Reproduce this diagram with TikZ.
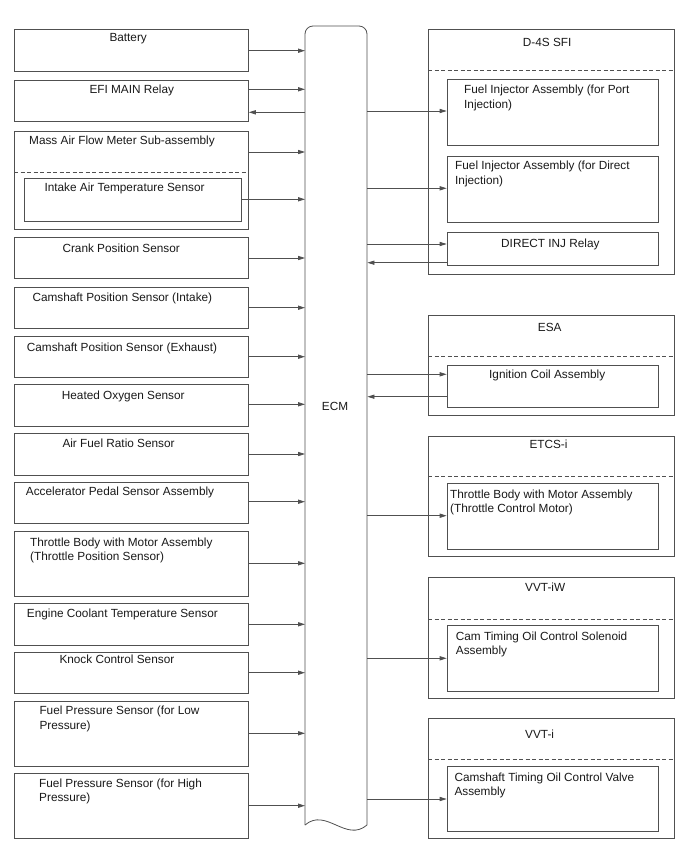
\documentclass[tikz,border=0pt]{standalone}
\usepackage{fontspec}
\setmainfont{Liberation Sans}
\usetikzlibrary{arrows.meta}
\definecolor{linec}{RGB}{80,80,80}
\definecolor{txtc}{RGB}{25,25,25}
\begin{document}
\begin{tikzpicture}[x=1pt,y=-1pt,
  box/.style={draw=linec, line width=0.8pt, rectangle, inner sep=0pt, anchor=north west},
  lbox/.style={box, minimum width=234pt},
  gbox/.style={box, minimum width=246pt},
  ibox/.style={box, minimum width=211pt},
  lbl/.style={anchor=north west, inner sep=0pt, align=left, text=txtc, font=\fontsize{11.8}{14.3}\selectfont},
  arr/.style={draw=linec, line width=0.8pt, -{Triangle[length=7pt,width=4.2pt]}},
  sep/.style={draw=linec, line width=0.8pt, dash pattern=on 4pt off 2.5pt},
  ecmline/.style={draw=linec, line width=0.8pt}]
\useasboundingbox (0,0) rectangle (688,852);

% ECM
\node[inner sep=0pt, minimum width=62pt, minimum height=799pt, anchor=north west] (ecm) at (305,26) {};
\draw[ecmline, rounded corners=8pt] (305,825) -- (305,26) -- (367,26) -- (367,825);
\draw[ecmline] (367,825) .. controls (346,843) and (326,807) .. (305,825);
\node[lbl] (ecmlbl) at (321.7,401.7) {ECM};

% left boxes
\node[lbox, minimum height=42pt] (bat) at (14,29) {};
\node[lbl] (batt) at (109.3,33.3) {Battery};
\node[lbox, minimum height=41pt] (efi) at (14,80) {};
\node[lbl] (efit) at (89.3,85) {EFI MAIN Relay};
\node[lbox, minimum height=98pt] (maf) at (14,131) {};
\node[lbl] (maft) at (29,136) {Mass Air Flow Meter Sub-assembly};
\draw[sep] (maf.west |- 0,172) -- (maf.east |- 0,172);
\node[box, minimum width=217pt, minimum height=43pt] (iat) at (24,178) {};
\node[lbl] (iatt) at (44.3,182.3) {Intake Air Temperature Sensor};
\node[lbox, minimum height=41.3pt] (crk) at (14,236.7) {};
\node[lbl] (crkt) at (62.3,243.3) {Crank Position Sensor};
\node[lbox, minimum height=41pt] (cmi) at (14,286.7) {};
\node[lbl] (cmit) at (32.3,292.7) {Camshaft Position Sensor (Intake)};
\node[lbox, minimum height=41pt] (cme) at (14,336) {};
\node[lbl] (cmet) at (26.7,342.3) {Camshaft Position Sensor (Exhaust)};
\node[lbox, minimum height=41.7pt] (ho2) at (14,384.3) {};
\node[lbl] (ho2t) at (61.7,390.7) {Heated Oxygen Sensor};
\node[lbox, minimum height=41.7pt] (afs) at (14,433.3) {};
\node[lbl] (afst) at (62.3,438.3) {Air Fuel Ratio Sensor};
\node[lbox, minimum height=41.6pt] (aps) at (14,481.7) {};
\node[lbl] (apst) at (25.7,486.7) {Accelerator Pedal Sensor Assembly};
\node[lbox, minimum height=64.7pt] (tps) at (14,531) {};
\node[lbl] (tpst) at (30,537.3) {Throttle Body with Motor Assembly\\(Throttle Position Sensor)};
\node[lbox, minimum height=41.7pt] (ect) at (14,603.3) {};
\node[lbl] (ectt) at (26.7,608.3) {Engine Coolant Temperature Sensor};
\node[lbox, minimum height=41.6pt] (kcs) at (14,651.7) {};
\node[lbl] (kcst) at (59.3,655) {Knock Control Sensor};
\node[lbox, minimum height=64.7pt] (fpl) at (14,701) {};
\node[lbl] (fplt) at (39.3,706) {Fuel Pressure Sensor (for Low\\Pressure)};
\node[lbox, minimum height=65pt] (fph) at (14,773.3) {};
\node[lbl] (fpht) at (39,778.3) {Fuel Pressure Sensor (for High\\Pressure)};

% left connectors
\draw[arr] (bat.east |- 0,50.7) -- (ecm.west |- 0,50.7);
\draw[arr] (efi.east |- 0,89.3) -- (ecm.west |- 0,89.3);
\draw[arr] (ecm.west |- 0,112.3) -- (efi.east |- 0,112.3);
\draw[arr] (maf.east |- 0,152) -- (ecm.west |- 0,152);
\draw[arr] (iat.east |- 0,199.3) -- (ecm.west |- 0,199.3);
\draw[arr] (crk.east |- 0,258) -- (ecm.west |- 0,258);
\draw[arr] (cmi.east |- 0,307.7) -- (ecm.west |- 0,307.7);
\draw[arr] (cme.east |- 0,356.7) -- (ecm.west |- 0,356.7);
\draw[arr] (ho2.east |- 0,404.3) -- (ecm.west |- 0,404.3);
\draw[arr] (afs.east |- 0,454) -- (ecm.west |- 0,454);
\draw[arr] (aps.east |- 0,501.7) -- (ecm.west |- 0,501.7);
\draw[arr] (tps.east |- 0,563.3) -- (ecm.west |- 0,563.3);
\draw[arr] (ect.east |- 0,624.3) -- (ecm.west |- 0,624.3);
\draw[arr] (kcs.east |- 0,672.7) -- (ecm.west |- 0,672.7);
\draw[arr] (fpl.east |- 0,733.3) -- (ecm.west |- 0,733.3);
\draw[arr] (fph.east |- 0,805.7) -- (ecm.west |- 0,805.7);

% right groups
\node[gbox, minimum height=244.7pt] (d4s) at (428,29.3) {};
\node[lbl] (d4st) at (522.7,38.3) {D-4S SFI};
\draw[sep] (d4s.west |- 0,70.7) -- (d4s.east |- 0,70.7);
\node[ibox, minimum height=65.7pt] (fip) at (446.7,79.3) {};
\node[lbl] (fipt) at (464,85) {Fuel Injector Assembly (for Port\\Injection)};
\node[ibox, minimum height=66pt] (fid) at (446.7,155.7) {};
\node[lbl] (fidt) at (455,161) {Fuel Injector Assembly (for Direct\\Injection)};
\node[ibox, minimum height=32.7pt] (dir) at (446.7,232.3) {};
\node[lbl] (dirt) at (501,238.3) {DIRECT INJ Relay};

\node[gbox, minimum height=100pt] (esa) at (428,315) {};
\node[lbl] (esat) at (537.7,323.3) {ESA};
\draw[sep] (esa.west |- 0,356.7) -- (esa.east |- 0,356.7);
\node[ibox, minimum height=41.7pt] (ign) at (446.7,365) {};
\node[lbl] (ignt) at (489,370) {Ignition Coil Assembly};

\node[gbox, minimum height=120.3pt] (etc) at (428,435.7) {};
\node[lbl] (etct) at (529.3,439.3) {ETCS-i};
\draw[sep] (etc.west |- 0,476.7) -- (etc.east |- 0,476.7);
\node[ibox, minimum height=66pt] (tcm) at (446.7,482.7) {};
\node[lbl] (tcmt) at (450,489.3) {Throttle Body with Motor Assembly\\(Throttle Control Motor)};

\node[gbox, minimum height=120.4pt] (vvw) at (428,577.3) {};
\node[lbl] (vvwt) at (525,582.3) {VVT-iW};
\draw[sep] (vvw.west |- 0,619) -- (vvw.east |- 0,619);
\node[ibox, minimum height=65.7pt] (ocs) at (446.7,625) {};
\node[lbl] (ocst) at (455.7,631.7) {Cam Timing Oil Control Solenoid\\Assembly};

\node[gbox, minimum height=120pt] (vvt) at (428,717.7) {};
\node[lbl] (vvtt) at (525,730) {VVT-i};
\draw[sep] (vvt.west |- 0,759.3) -- (vvt.east |- 0,759.3);
\node[ibox, minimum height=65.3pt] (ocv) at (446.7,765.7) {};
\node[lbl] (ocvt) at (454.3,772.3) {Camshaft Timing Oil Control Valve\\Assembly};

% right connectors
\draw[arr] (ecm.east |- 0,111) -- (fip.west |- 0,111);
\draw[arr] (ecm.east |- 0,188.3) -- (fid.west |- 0,188.3);
\draw[arr] (ecm.east |- 0,244) -- (dir.west |- 0,244);
\draw[arr] (dir.west |- 0,262.7) -- (ecm.east |- 0,262.7);
\draw[arr] (ecm.east |- 0,374.3) -- (ign.west |- 0,374.3);
\draw[arr] (ign.west |- 0,396.7) -- (ecm.east |- 0,396.7);
\draw[arr] (ecm.east |- 0,515.7) -- (tcm.west |- 0,515.7);
\draw[arr] (ecm.east |- 0,658.3) -- (ocs.west |- 0,658.3);
\draw[arr] (ecm.east |- 0,799) -- (ocv.west |- 0,799);
\end{tikzpicture}
\end{document}
